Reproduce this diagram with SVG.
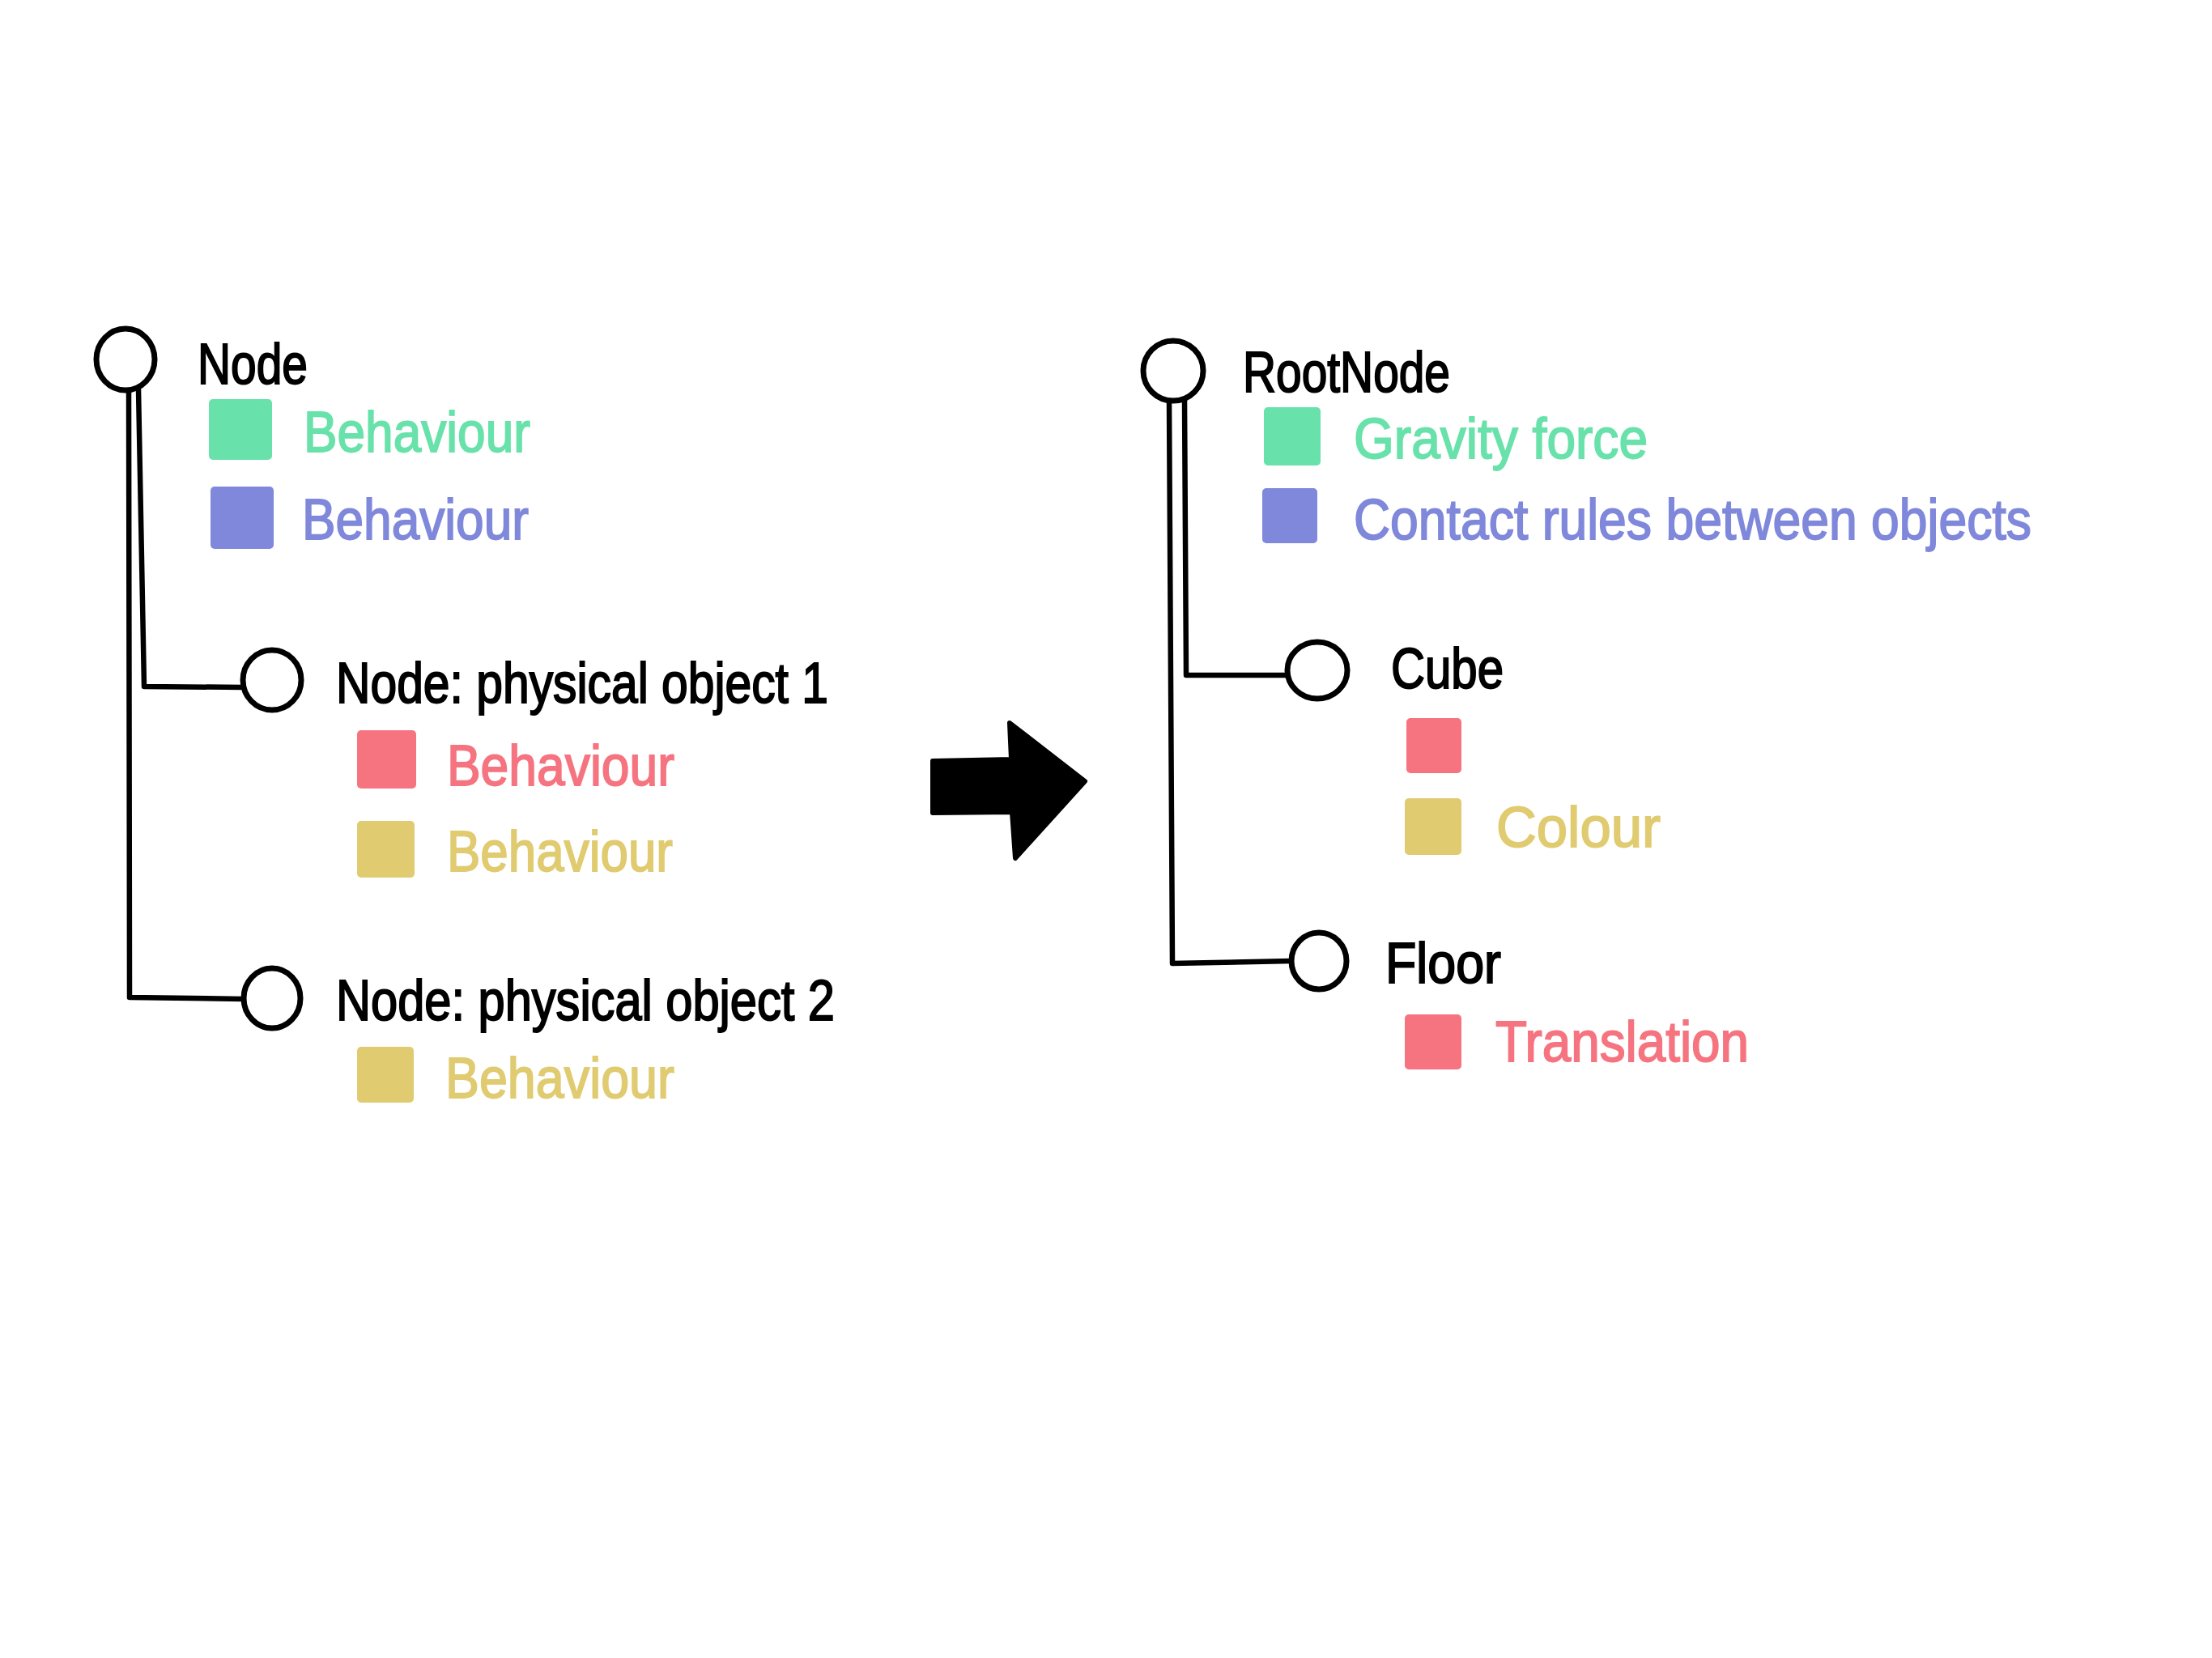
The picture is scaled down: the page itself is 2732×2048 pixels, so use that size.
<svg xmlns="http://www.w3.org/2000/svg" width="2732" height="2048" viewBox="0 0 2732 2048">
<style>
.bg{fill:#ffffff}
.ring{fill:#ffffff;stroke:#000;stroke-width:7}
.wire{fill:none;stroke:#000;stroke-width:6.5;stroke-linejoin:round;stroke-linecap:round}
text{font-family:"Liberation Sans","Noto Sans",sans-serif;font-size:70px}
.t{fill:#000;stroke:#000;stroke-width:2}
.g{fill:#68E2AA;stroke:#68E2AA;stroke-width:1.8}
.b{fill:#7F88DA;stroke:#7F88DA;stroke-width:1.8}
.r{fill:#F57480;stroke:#F57480;stroke-width:1.8}
.y{fill:#E0CB70;stroke:#E0CB70;stroke-width:1.8}
.sg{fill:#68E2AA}.sb{fill:#7F88DA}.sr{fill:#F57480}.sy{fill:#E0CB70}
</style>
<rect class="bg" x="0" y="0" width="2732" height="2048"/>
<g id="connectors">
<polyline class="wire" points="159,481 160,1232 301,1234"/>
<polyline class="wire" points="171,481 178,848 300,849"/>
<polyline class="wire" points="1444,494 1448,1190 1595,1187"/>
<polyline class="wire" points="1463,494 1465,834 1590,834"/>
</g>
<g id="left-root">
<ellipse class="ring" cx="155" cy="444" rx="36" ry="38"/>
<text class="t" x="244" y="474" textLength="136" lengthAdjust="spacingAndGlyphs">Node</text>
<rect class="sg" x="258" y="493" width="78" height="75" rx="5"/>
<text class="g" x="375" y="558" textLength="280" lengthAdjust="spacingAndGlyphs">Behaviour</text>
<rect class="sb" x="260" y="601" width="78" height="77" rx="5"/>
<text class="b" x="373" y="666" textLength="280" lengthAdjust="spacingAndGlyphs">Behaviour</text>
</g>
<g id="left-child1">
<ellipse class="ring" cx="336" cy="840" rx="36" ry="37"/>
<text class="t" x="415" y="868" textLength="608" lengthAdjust="spacingAndGlyphs">Node: physical object 1</text>
<rect class="sr" x="441" y="902" width="73" height="72" rx="5"/>
<text class="r" x="552" y="970" textLength="281" lengthAdjust="spacingAndGlyphs">Behaviour</text>
<rect class="sy" x="441" y="1014" width="71" height="70" rx="5"/>
<text class="y" x="552" y="1076" textLength="279" lengthAdjust="spacingAndGlyphs">Behaviour</text>
</g>
<g id="left-child2">
<ellipse class="ring" cx="336" cy="1233" rx="35" ry="37"/>
<text class="t" x="415" y="1260" textLength="616" lengthAdjust="spacingAndGlyphs">Node: physical object 2</text>
<rect class="sy" x="441" y="1293" width="70" height="69" rx="5"/>
<text class="y" x="550" y="1356" textLength="283" lengthAdjust="spacingAndGlyphs">Behaviour</text>
</g>
<g id="arrow">
<path d="M1152,940 L1249,938 L1247,893 L1340,965 L1254,1060 L1250,1003 L1152,1004 Z" fill="#000" stroke="#000" stroke-width="6" stroke-linejoin="round"/>
</g>
<g id="right-root">
<ellipse class="ring" cx="1449" cy="458" rx="37" ry="37"/>
<text class="t" x="1535" y="484" textLength="256" lengthAdjust="spacingAndGlyphs">RootNode</text>
<rect class="sg" x="1561" y="503" width="70" height="72" rx="5"/>
<text class="g" x="1672" y="566" textLength="363" lengthAdjust="spacingAndGlyphs">Gravity force</text>
<rect class="sb" x="1559" y="603" width="68" height="68" rx="5"/>
<text class="b" x="1672" y="666" textLength="837" lengthAdjust="spacingAndGlyphs">Contact rules between objects</text>
</g>
<g id="right-cube">
<ellipse class="ring" cx="1627" cy="828" rx="37" ry="35"/>
<text class="t" x="1718" y="850" textLength="139" lengthAdjust="spacingAndGlyphs">Cube</text>
<rect class="sr" x="1737" y="887" width="68" height="68" rx="5"/>
<rect class="sy" x="1735" y="986" width="70" height="70" rx="5"/>
<text class="y" x="1848" y="1046" textLength="203" lengthAdjust="spacingAndGlyphs">Colour</text>
</g>
<g id="right-floor">
<ellipse class="ring" cx="1629" cy="1187" rx="34" ry="35"/>
<text class="t" x="1711" y="1214" textLength="143" lengthAdjust="spacingAndGlyphs">Floor</text>
<rect class="sr" x="1735" y="1253" width="70" height="68" rx="5"/>
<text class="r" x="1847" y="1311" textLength="313" lengthAdjust="spacingAndGlyphs">Translation</text>
</g>
</svg>
